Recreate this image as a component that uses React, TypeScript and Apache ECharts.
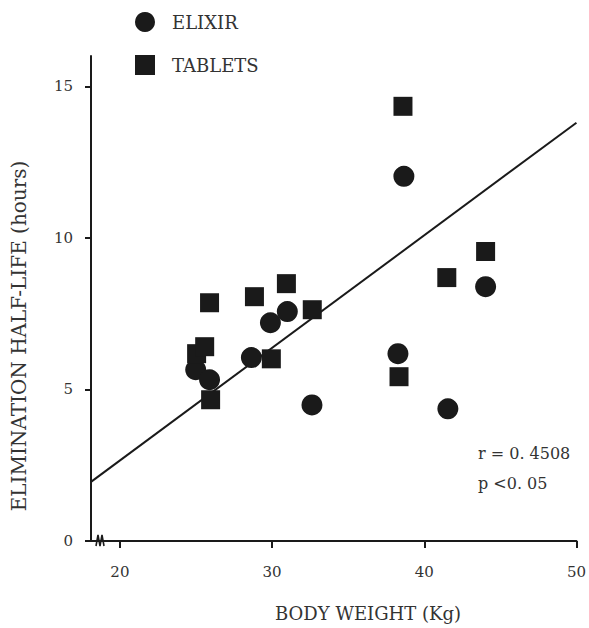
import React, { useEffect, useRef } from "react";
import * as echarts from "echarts";

// Data
const elixirWeight = [24.98, 25.89, 28.64, 29.89, 31.0, 32.62, 38.66, 38.27, 41.55, 44.03];
const elixirHalfLife = [5.65, 5.32, 6.05, 7.2, 7.57, 4.49, 12.03, 6.18, 4.36, 8.39];
const tabletWeight = [25.04, 25.57, 25.96, 25.89, 28.84, 30.94, 32.64, 29.95, 38.6, 38.34, 41.48, 44.03];
const tabletHalfLife = [6.18, 6.41, 4.66, 7.86, 8.06, 8.49, 7.63, 6.01, 14.34, 5.42, 8.69, 9.55];
const fitWeight = [18.1, 50];
const fitHalfLife = [1.95, 13.8];
const xTicks = [20, 30, 40, 50];
const yTicks = [0, 5, 10, 15];
const seriesNames = ["ELIXIR", "TABLETS"];
const xTitle = "BODY WEIGHT (Kg)";
const yTitle = "ELIMINATION HALF-LIFE (hours)";
const statLines = ["r = 0. 4508", "p <0. 05"];

const FONT = '"DejaVu Serif", "Liberation Serif", serif';
const INK = "#1a1a1a";
const TEXT = "#333333";

export default function App() {
  const ref = useRef<HTMLDivElement>(null);
  useEffect(() => {
    if (!ref.current) return;
    const chart = echarts.init(ref.current, undefined, { renderer: "svg" });
    const zip = (a: number[], b: number[]) => a.map((v, i) => [v, b[i]]);
    chart.setOption({
      animation: false,
      backgroundColor: "#ffffff",
      grid: { left: 91, right: 9, top: 56, bottom: 87, containLabel: false },
      legend: {
        data: [
          { name: seriesNames[0], icon: "circle" },
          { name: seriesNames[1], icon: "rect" },
        ],
        orient: "vertical",
        left: 130,
        top: 7,
        itemWidth: 20,
        itemHeight: 20,
        itemGap: 23,
        itemStyle: { opacity: 1 },
        textStyle: { fontFamily: FONT, fontSize: 18, color: TEXT, padding: [0, 0, 0, 12] },
      },
      xAxis: {
        type: "value",
        min: 18.1,
        max: 50,
        axisLine: { show: true, onZero: false, lineStyle: { color: INK, width: 2 } },
        axisTick: { show: true, customValues: xTicks, length: 7, lineStyle: { color: INK, width: 2 } },
        axisLabel: { customValues: xTicks, margin: 23, fontFamily: FONT, fontSize: 15, color: TEXT },
        splitLine: { show: false },
      },
      yAxis: {
        type: "value",
        min: 0,
        max: 16,
        axisLine: { show: true, onZero: false, lineStyle: { color: INK, width: 2 } },
        axisTick: { show: true, customValues: yTicks, length: 6, lineStyle: { color: INK, width: 2 } },
        axisLabel: { customValues: yTicks, margin: 18, fontFamily: FONT, fontSize: 15, color: TEXT },
        splitLine: { show: false },
      },
      series: [
        {
          type: "line",
          name: "fit",
          data: zip(fitWeight, fitHalfLife),
          showSymbol: false,
          symbol: "none",
          lineStyle: { color: INK, width: 2 },
          z: 1,
        },
        {
          type: "scatter",
          name: seriesNames[0],
          data: zip(elixirWeight, elixirHalfLife),
          symbol: "circle",
          symbolSize: 21,
          itemStyle: { color: INK, opacity: 1 },
          z: 3,
        },
        {
          type: "scatter",
          name: seriesNames[1],
          data: zip(tabletWeight, tabletHalfLife),
          symbol: "rect",
          symbolSize: 19,
          itemStyle: { color: INK, opacity: 1 },
          z: 3,
        },
      ],
      graphic: [
        {
          type: "text",
          x: 19,
          y: 336,
          rotation: Math.PI / 2,
          style: {
            text: yTitle,
            font: `20px ${FONT}`,
            fill: TEXT,
            textAlign: "center",
            textVerticalAlign: "middle",
          },
        },
        {
          type: "text",
          x: 368,
          y: 613,
          style: {
            text: xTitle,
            font: `18px ${FONT}`,
            fill: TEXT,
            textAlign: "center",
            textVerticalAlign: "middle",
          },
        },
        {
          type: "text",
          x: 478,
          y: 453,
          style: { text: statLines[0], font: `16px ${FONT}`, fill: TEXT, textVerticalAlign: "middle" },
        },
        {
          type: "text",
          x: 478,
          y: 483,
          style: { text: statLines[1], font: `16px ${FONT}`, fill: TEXT, textVerticalAlign: "middle" },
        },
        {
          type: "polyline",
          shape: { points: [[96, 546], [98, 535], [100, 546], [102, 535], [104, 546]] },
          style: { stroke: INK, lineWidth: 1.6, fill: null },
        },
      ],
    });
    return () => chart.dispose();
  }, []);
  return (
    <div
      ref={ref}
      style={{ position: "fixed", left: 0, top: 0, width: 589, height: 628, background: "#fff" }}
    />
  );
}
